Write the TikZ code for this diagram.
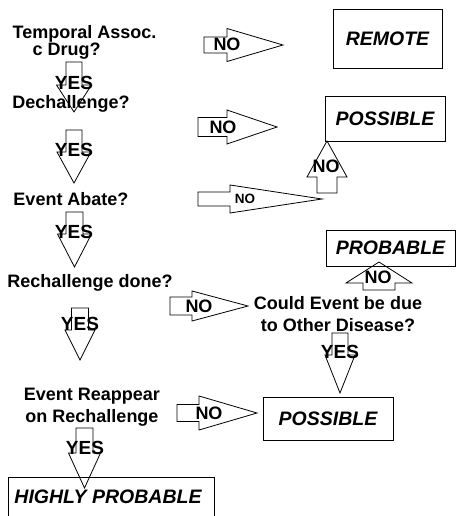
\documentclass[tikz,border=0pt]{standalone}
\usepackage{fontspec}
\setmainfont{Liberation Sans}
\usetikzlibrary{positioning}
\tikzset{
  question/.style={font=\fontsize{18}{22}\selectfont\bfseries,align=center,inner sep=0},
  result/.style={draw,font=\fontsize{19.5}{22}\selectfont\bfseries\itshape,inner sep=0},
  yeslabel/.style={font=\fontsize{19}{19}\selectfont\bfseries,inner sep=0},
  nolabel/.style={font=\fontsize{18}{18}\selectfont\bfseries,inner sep=0}
}
% #1 base, #2 angle, #3 shaft length, #4 tip distance, #5 shaft half width, #6 head half width
\newcommand{\blockarrow}[6]{%
  \draw[shift={#1},rotate=#2] (0,-#5) -- (#3,-#5) -- (#3,-#6) -- (#4,0) -- (#3,#6) -- (#3,#5) -- (0,#5) -- cycle;}

\begin{document}
\begin{tikzpicture}[x=1pt,y=-1pt,line width=0.8pt]
  \useasboundingbox (0,0) rectangle (456,516);

  \node[question,align=left,font=\fontsize{18}{17}\selectfont\bfseries] (temporal) at (84.5,42.5) {Temporal Assoc.\\\hspace*{20pt}c Drug?};
  \node[question] (dechal) at (71,104) {Dechallenge?};
  \node[question] (abate) at (71,199) {Event Abate?};
  \node[question] (rechal) at (90,283) {Rechallenge done?};
  \node[question] (reappear) at (92,407) {Event Reappear\\on Rechallenge};
  \node[question] (other) at (338,314.5) {Could Event be due\\to Other Disease?};

  \node[result,minimum width=109,minimum height=59] (remote) at (387.5,38.5) {REMOTE};
  \node[result,minimum width=120,minimum height=45] (possA) at (385,118.5) {POSSIBLE};
  \node[result,minimum width=129,minimum height=36] (probable) at (390.5,248) {PROBABLE};
  \node[result,minimum width=130,minimum height=43] (possB) at (328,418.5) {POSSIBLE};
  \node[result,draw=none] (highly) at (108,497) {HIGHLY PROBABLE};
  \draw (8,520) |- (214,477) -- (214,520);

  % YES arrows
  \blockarrow{(74,62)}{-90}{23}{50}{8}{17.5}
  \blockarrow{(74,130)}{-90}{22}{53}{8}{17}
  \blockarrow{(74.5,212)}{-90}{22}{55}{8.5}{17}
  \blockarrow{(80,308)}{-90}{22}{52}{8.5}{15}
  \blockarrow{(84.5,428)}{-90}{25}{60}{8.5}{16}
  \blockarrow{(340,333)}{-90}{22}{60}{8}{15}
  \node[yeslabel] (yesA) at (74,83) {YES};
  \node[yeslabel] (yesB) at (74,150) {YES};
  \node[yeslabel] (yesC) at (74,232) {YES};
  \node[yeslabel] (yesD) at (80,324) {YES};
  \node[yeslabel] (yesE) at (85,448) {YES};
  \node[yeslabel] (yesF) at (340,352) {YES};

  % NO arrows
  \blockarrow{(204,45)}{0}{23}{79}{8}{16.5}
  \blockarrow{(198,127)}{0}{29}{79}{9.5}{17}
  \blockarrow{(198,199)}{0}{32}{124}{7}{14}
  \blockarrow{(170,306)}{0}{22}{78}{9}{15}
  \blockarrow{(177,413)}{0}{22}{80}{8.5}{17}
  \blockarrow{(327,193)}{90}{16}{52}{10}{20}
  \blockarrow{(379,290)}{90}{7}{28}{16}{33}
  \node[nolabel] (noA) at (227,44) {NO};
  \node[nolabel] (noB) at (223,127) {NO};
  \node[nolabel,font=\fontsize{13.5}{13.5}\selectfont\bfseries] (noC) at (245,199) {NO};
  \node[nolabel] (noD) at (199,306) {NO};
  \node[nolabel] (noE) at (209,413) {NO};
  \node[nolabel] (noF) at (326,166) {NO};
  \node[nolabel] (noG) at (378,277) {NO};
\end{tikzpicture}
\end{document}
